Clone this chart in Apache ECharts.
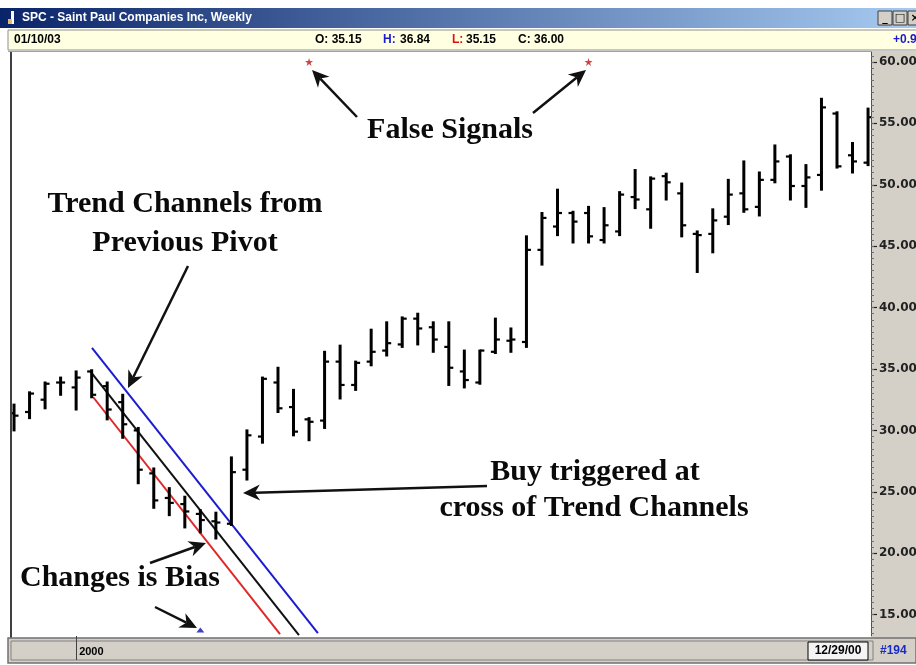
<!DOCTYPE html>
<html><head><meta charset="utf-8">
<script src="https://cdn.jsdelivr.net/npm/echarts@6/dist/echarts.min.js"></script>
<style>html,body{margin:0;padding:0;background:#fff;}#c{width:916px;height:665px;}</style>
</head><body><div id="c"></div><script>
// Weekly OHLC bars (index 0 = first visible week, last = 12/29/00)
const opens  = [31.4,31.5,32.5,33.9,33.5,34.8,33.6,32.3,30.0,26.5, 24.5,24.0,23.2,22.6,22.4,26.8,29.5,33.9,31.9,30.9, 30.8,35.6,33.7,35.6,36.5,37.0,39.1,38.4,36.8,34.8, 33.9,36.4,37.3,37.2,44.7,46.6,47.7,47.7,45.5,46.2, 49.0,48.0,50.7,49.3,46.0,46.0,47.4,49.3,48.2,50.4, 52.3,49.9,50.8,55.8,52.4,51.8];
const highs  = [32.1,33.1,33.9,34.3,34.8,34.9,33.9,32.9,30.2,26.9, 25.3,24.6,23.5,23.3,27.8,30.0,34.3,35.1,33.3,31.0, 36.4,36.9,35.6,38.2,38.8,39.2,39.5,38.8,38.8,36.5, 36.5,39.1,38.3,45.8,47.7,49.6,47.8,48.2,48.1,49.4, 51.2,50.6,50.9,50.1,46.2,48.0,50.4,51.9,51.0,53.2, 52.4,51.6,57.0,55.9,53.4,56.2];
const lows   = [30.0,31.0,31.8,32.9,31.7,32.7,30.9,29.4,25.7,23.7, 23.1,22.1,21.7,21.2,22.3,26.0,29.0,31.5,29.6,29.2, 30.2,32.6,33.3,35.3,36.1,36.8,37.0,36.4,33.7,33.5, 33.8,36.3,36.4,36.8,43.5,45.9,45.3,45.3,45.3,45.9, 48.1,46.5,48.8,45.8,42.9,44.5,46.8,47.8,47.5,50.2, 48.8,48.2,49.6,51.4,51.0,51.6];
const closes = [31.2,33.0,33.8,33.9,34.3,32.9,31.7,30.5,26.8,24.3, 24.1,23.4,22.7,22.5,26.6,29.6,34.2,31.8,29.9,30.7, 35.6,33.7,35.5,36.4,37.1,39.1,38.3,37.4,35.1,34.1, 36.5,37.4,37.4,44.7,47.3,47.7,47.0,45.8,46.7,49.2, 48.8,50.5,50.2,46.7,45.9,47.1,49.2,48.0,50.4,51.9, 49.9,50.6,56.3,51.5,51.9,55.5];

// Trend channel lines [weekIndex, price]
const blueChannel  = [[5.02, 36.71], [19.57, 13.50]];
const blackChannel = [[4.89, 34.84], [18.35, 13.34]];
const redChannel   = [[5.09, 32.72], [17.13, 13.42]];

// Signal markers [weekIndex, price]
const falseSignals = [[19, 60.0], [37, 60.0]];
const biasSignal   = [[12, 13.75]];

// Axis labels
const yTickLabels = [15, 20, 25, 30, 35, 40, 45, 50, 55, 60];
const yearLabelIndex = [4];
const yearLabelText = '2000';

const Y_MIN = 13.26, Y_MAX = 60.81;
const X_MIN = -0.13, X_MAX = 55.19;

const minorTicks = [];
for (let v = 13.5; v <= 60.5; v += 0.5) minorTicks.push(v);

const ohlcData = opens.map((o, i) => [i, o, highs[i], lows[i], closes[i]]);

function renderOHLC(params, api) {
  const x = api.value(0);
  const o = api.coord([x, api.value(1)]);
  const h = api.coord([x, api.value(2)]);
  const l = api.coord([x, api.value(3)]);
  const c = api.coord([x, api.value(4)]);
  const w = 4.5;
  return {
    type: 'group',
    children: [
      { type: 'line', shape: { x1: h[0], y1: h[1] - 1, x2: l[0], y2: l[1] + 1 }, style: { stroke: '#000', lineWidth: 3 } },
      { type: 'line', shape: { x1: o[0] - w, y1: o[1], x2: o[0], y2: o[1] }, style: { stroke: '#000', lineWidth: 2.2 } },
      { type: 'line', shape: { x1: c[0], y1: c[1], x2: c[0] + w, y2: c[1] }, style: { stroke: '#000', lineWidth: 2.2 } }
    ]
  };
}

function arrow(x1, y1, x2, y2) {
  const hl = 17, hw = 8;
  const a = Math.atan2(y2 - y1, x2 - x1);
  const dx = Math.cos(a), dy = Math.sin(a);
  const bx = x2 - hl * dx, by = y2 - hl * dy;
  const nx = x2 - hl * 0.7 * dx, ny = y2 - hl * 0.7 * dy;
  const px = -dy * hw, py = dx * hw;
  return [
    { type: 'line', z: 50, shape: { x1: x1, y1: y1, x2: nx, y2: ny }, style: { stroke: '#111', lineWidth: 2.5 } },
    { type: 'polygon', z: 50, shape: { points: [[x2, y2], [bx + px, by + py], [nx, ny], [bx - px, by - py]] }, style: { fill: '#111' } }
  ];
}

function label(text, cx, cy) {
  return { type: 'text', z: 60, x: cx, y: cy, style: { text: text, fill: '#0a0a0a', font: 'bold 30px "Liberation Serif"', align: 'center', verticalAlign: 'middle' } };
}

function smallText(text, x, y, color, align) {
  return { type: 'text', z: 60, x: x, y: y, style: { text: text, fill: color, font: 'bold 12px "Liberation Sans"', align: align || 'left', verticalAlign: 'middle' } };
}

const G = [];
// window title bar
G.push({ type: 'rect', z: -5, shape: { x: 0, y: 8, width: 916, height: 20 },
  style: { fill: { type: 'linear', x: 0, y: 0, x2: 1, y2: 0, colorStops: [{ offset: 0, color: '#0a246a' }, { offset: 1, color: '#a6caf0' }] } } });
G.push({ type: 'rect', z: 60, shape: { x: 11, y: 11, width: 3, height: 13 }, style: { fill: '#ffffff' } });
G.push({ type: 'rect', z: 60, shape: { x: 8, y: 19, width: 4, height: 5 }, style: { fill: '#e0c070' } });
G.push({ type: 'text', z: 60, x: 22, y: 18, style: { text: 'SPC - Saint Paul Companies Inc, Weekly', fill: '#ffffff', font: 'bold 12px "Liberation Sans"', verticalAlign: 'middle' } });
[878, 893, 908].forEach((bx, k) => {
  G.push({ type: 'rect', z: 60, shape: { x: bx, y: 11, width: 14, height: 14 }, style: { fill: '#d4d0c8', stroke: '#404040', lineWidth: 1 } });
  G.push({ type: 'text', z: 61, x: bx + 7, y: 18, style: { text: ['_', '□', '×'][k], fill: '#000', font: 'bold 11px "DejaVu Sans"', align: 'center', verticalAlign: 'middle' } });
});
// info bar
G.push({ type: 'rect', z: -5, shape: { x: 8, y: 30, width: 910, height: 20 }, style: { fill: '#ffffe1', stroke: '#909090', lineWidth: 1 } });
G.push(smallText('01/10/03', 14, 40, '#000'));
G.push(smallText('O: 35.15', 315, 40, '#000'));
G.push(smallText('H:', 383, 40, '#1a1ad0'));
G.push(smallText('36.84', 400, 40, '#000'));
G.push(smallText('L:', 452, 40, '#e01010'));
G.push(smallText('35.15', 466, 40, '#000'));
G.push(smallText('C: 36.00', 518, 40, '#000'));
G.push(smallText('+0.93', 893, 40, '#1a1ad0'));
// right axis panel
G.push({ type: 'rect', z: -5, shape: { x: 872, y: 51, width: 44, height: 588 }, style: { fill: '#d4d0c8' } });
// plot borders
G.push({ type: 'line', z: 40, shape: { x1: 11, y1: 51, x2: 11, y2: 638 }, style: { stroke: '#404040', lineWidth: 2 } });
G.push({ type: 'line', z: 40, shape: { x1: 8, y1: 51.5, x2: 872, y2: 51.5 }, style: { stroke: '#a0a0a0', lineWidth: 1 } });
// bottom bar
G.push({ type: 'rect', z: 45, shape: { x: 8, y: 638, width: 908, height: 25 }, style: { fill: '#d4d0c8', stroke: '#707070', lineWidth: 1.5 } });
G.push({ type: 'rect', z: 46, shape: { x: 11, y: 641, width: 862, height: 19 }, style: { fill: 'none', stroke: '#808080', lineWidth: 1 } });
G.push({ type: 'rect', z: 46, shape: { x: 808, y: 642, width: 60, height: 18 }, style: { fill: '#f4f4f4', stroke: '#000', lineWidth: 1 } });
G.push(smallText('12/29/00', 838, 651, '#000', 'center'));
G.push(smallText('#194', 880, 651, '#1a2bc0'));

// annotations
G.push(label('False Signals', 450, 130));
G.push(label('Trend Channels from', 185, 204));
G.push(label('Previous Pivot', 185, 243));
G.push(label('Buy triggered at', 595, 472));
G.push(label('cross of Trend Channels', 594, 508));
G.push(label('Changes is Bias', 120, 578));
G.push(...arrow(357, 117, 312, 70));
G.push(...arrow(533, 113, 586, 70));
G.push(...arrow(188, 266, 128, 388));
G.push(...arrow(487, 486, 243, 493));
G.push(...arrow(150, 563, 206, 543));
G.push(...arrow(155, 607, 197, 628));

const gridRect = { left: 12, right: 45, top: 52, bottom: 29, containLabel: false, outerBoundsMode: 'none' };

const chart = echarts.init(document.getElementById('c'), null, { renderer: 'canvas' });
chart.setOption({
  animation: false,
  backgroundColor: '#ffffff',
  grid: [Object.assign({}, gridRect), Object.assign({}, gridRect)],
  xAxis: [{
    gridIndex: 0, type: 'value', min: X_MIN, max: X_MAX,
    axisLine: { show: false, onZero: false },
    splitLine: { show: false },
    axisTick: { show: true, customValues: yearLabelIndex, length: 24, lineStyle: { color: '#404040', width: 1 } },
    axisLabel: { show: true, customValues: yearLabelIndex, formatter: () => yearLabelText, align: 'left', margin: 10,
      padding: [0, 0, 0, 3], color: '#000', fontSize: 11, fontWeight: 'bold', fontFamily: 'Liberation Sans' },
    z: 50
  }, {
    gridIndex: 1, type: 'value', min: X_MIN, max: X_MAX, show: false, axisLine: { onZero: false }
  }],
  yAxis: [{
    gridIndex: 0, type: 'value', position: 'right', min: Y_MIN, max: Y_MAX,
    axisLine: { show: true, onZero: false, lineStyle: { color: '#505050', width: 1 } },
    axisTick: { show: true, customValues: yTickLabels, length: 6, lineStyle: { color: '#222', width: 1.2 } },
    axisLabel: { show: true, customValues: yTickLabels, formatter: v => v.toFixed(2), margin: 8,
      color: '#222', fontSize: 12, fontWeight: 'bold', fontFamily: 'DejaVu Sans' },
    splitLine: { show: false }
  }, {
    gridIndex: 1, type: 'value', position: 'right', min: Y_MIN, max: Y_MAX,
    axisLine: { show: false, onZero: false },
    axisTick: { show: true, customValues: minorTicks, length: 3, lineStyle: { color: '#707070', width: 1 } },
    axisLabel: { show: false },
    splitLine: { show: false }
  }],
  series: [
    { type: 'custom', name: 'SPC', renderItem: renderOHLC, data: ohlcData, clip: true,
      encode: { x: 0, y: [1, 2, 3, 4] }, xAxisIndex: 0, yAxisIndex: 0, z: 10 },
    { type: 'line', name: 'blue', data: blueChannel, showSymbol: false, symbol: 'none', clip: true,
      lineStyle: { color: '#1c1cd0', width: 2 }, z: 5 },
    { type: 'line', name: 'black', data: blackChannel, showSymbol: false, symbol: 'none', clip: true,
      lineStyle: { color: '#111111', width: 2 }, z: 5 },
    { type: 'line', name: 'red', data: redChannel, showSymbol: false, symbol: 'none', clip: true,
      lineStyle: { color: '#e02828', width: 2 }, z: 5 },
    { type: 'scatter', name: 'false', data: falseSignals, clip: false,
      symbol: 'path://M5,0L6.2,3.8L10,3.8L7,6.2L8.1,10L5,7.7L1.9,10L3,6.2L0,3.8L3.8,3.8Z', symbolSize: 8,
      itemStyle: { color: '#c01818' }, z: 12 },
    { type: 'scatter', name: 'bias', data: biasSignal, clip: false,
      symbol: 'triangle', symbolSize: [8, 5], itemStyle: { color: '#1010b0' }, z: 12 }
  ],
  graphic: { elements: G }
});
</script></body></html>
